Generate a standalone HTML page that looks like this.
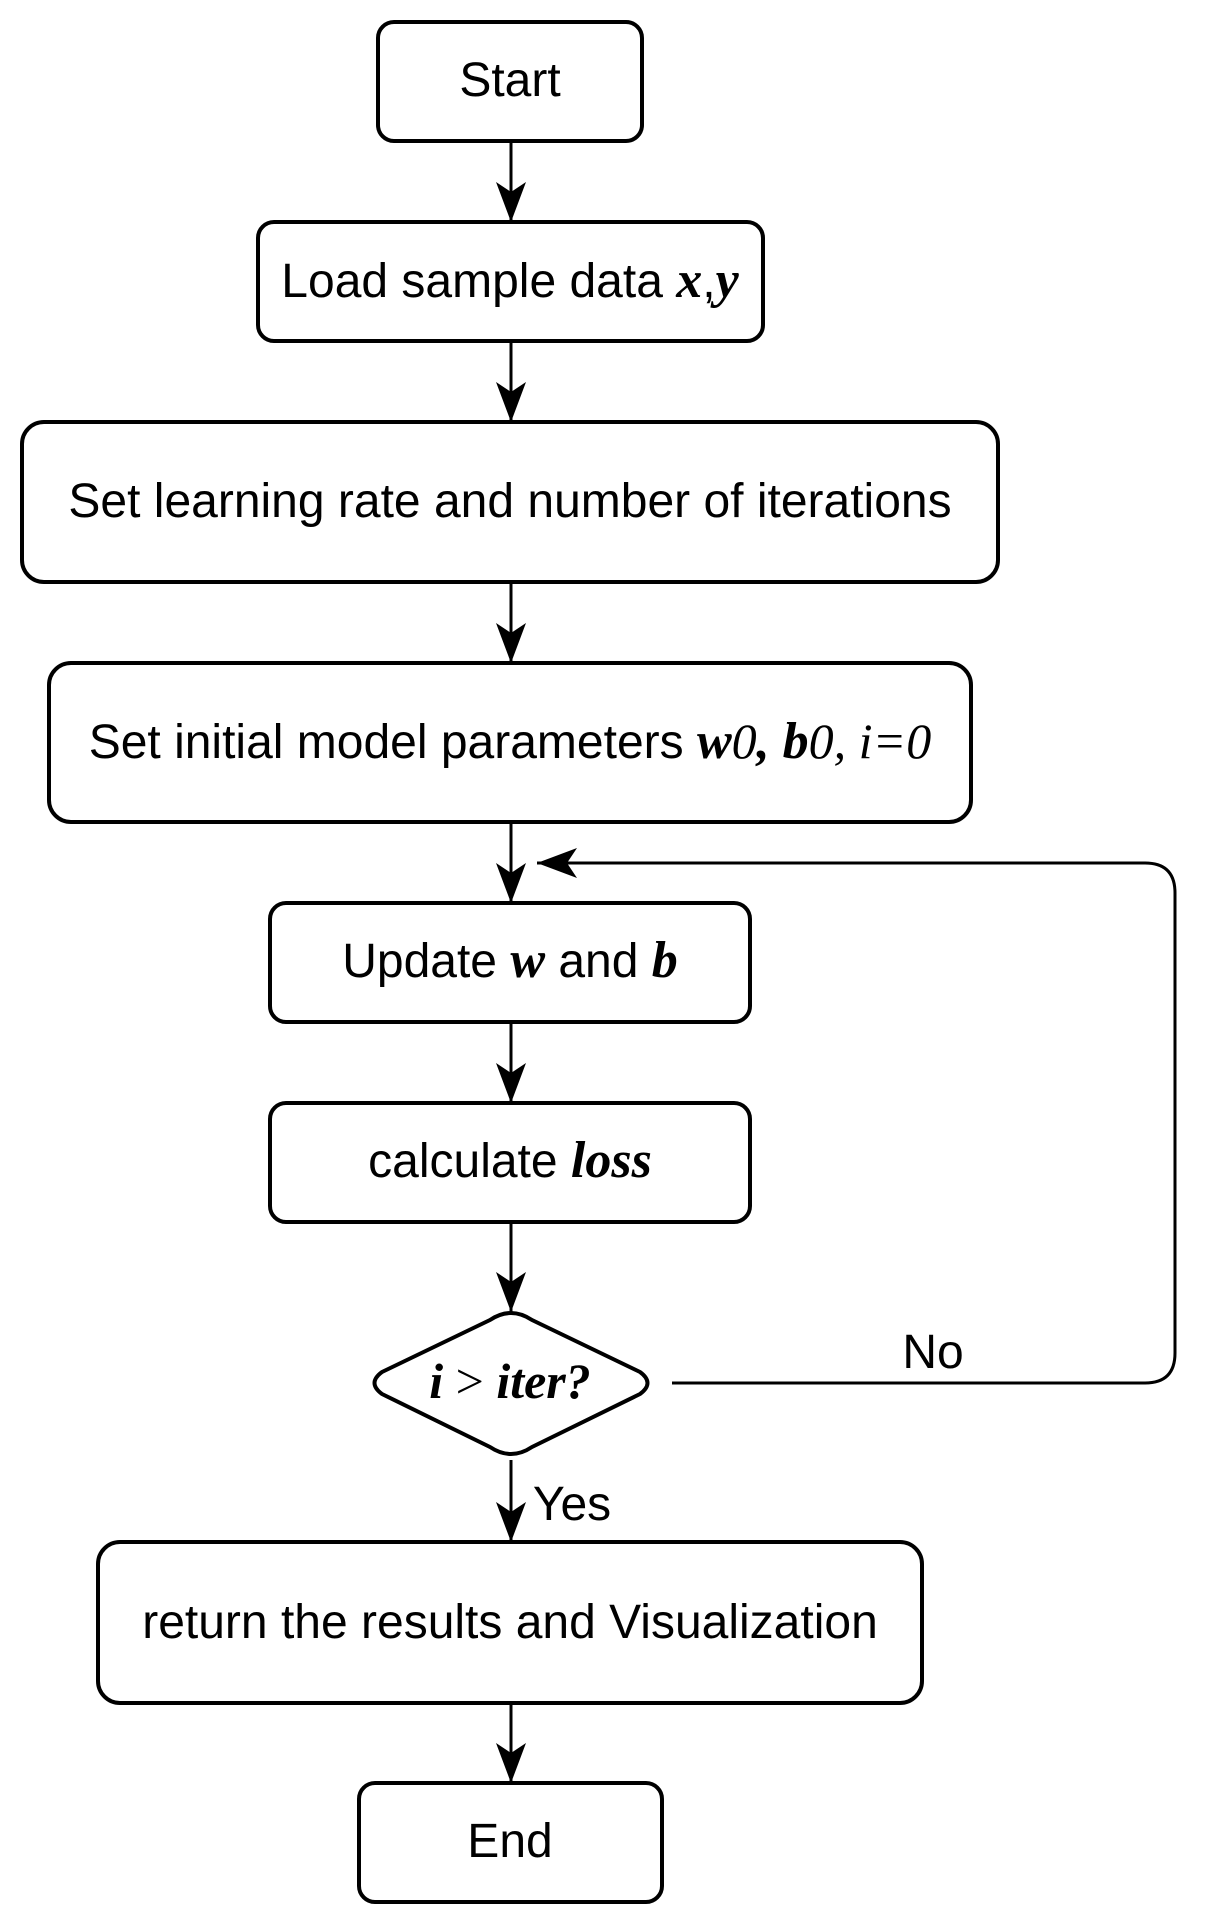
<!DOCTYPE html>
<html><head><style>html,body{margin:0;padding:0;background:#fff}</style></head>
<body>
<svg width="1228" height="1924" viewBox="0 0 1228 1924" xmlns="http://www.w3.org/2000/svg" font-family="Liberation Sans, sans-serif" font-size="48">
<defs>
<marker id="b" viewBox="0 0 40 30" refX="40" refY="15" markerWidth="40" markerHeight="30" markerUnits="userSpaceOnUse" orient="auto"><path d="M0,0 L40,15 L0,30 L10,15 z" fill="#000"/></marker></defs>
<g fill="#fff" stroke="#000" stroke-width="4">
<rect x="378" y="22" width="264" height="119" rx="16"/>
<rect x="258" y="222" width="505" height="119" rx="16"/>
<rect x="22" y="422" width="976" height="160" rx="22"/>
<rect x="49" y="663" width="922" height="159" rx="22"/>
<rect x="270" y="903" width="480" height="119" rx="16"/>
<rect x="270" y="1103" width="480" height="119" rx="16"/>
<path d="M490,1320 Q511,1306 532,1320 L640,1372 Q655,1383 640,1394 L532,1447 Q511,1461 490,1447 L382,1394 Q367,1383 382,1372 Z" stroke-linejoin="round"/>
<rect x="98" y="1542" width="824" height="161" rx="22"/>
<rect x="359" y="1783" width="303" height="119" rx="16"/>
</g>
<g stroke="#000" stroke-width="3" fill="none">
<line x1="511" y1="141" x2="511" y2="222" marker-end="url(#b)"/>
<line x1="511" y1="341" x2="511" y2="422" marker-end="url(#b)"/>
<line x1="511" y1="582" x2="511" y2="663" marker-end="url(#b)"/>
<line x1="511" y1="822" x2="511" y2="903" marker-end="url(#b)"/>
<line x1="511" y1="1022" x2="511" y2="1103" marker-end="url(#b)"/>
<line x1="511" y1="1222" x2="511" y2="1312" marker-end="url(#b)"/>
<line x1="511" y1="1460" x2="511" y2="1542" marker-end="url(#b)"/>
<line x1="511" y1="1703" x2="511" y2="1783" marker-end="url(#b)"/>
<path d="M672,1383 L1145,1383 Q1175,1383 1175,1353 L1175,893 Q1175,863 1145,863 L537,863" marker-end="url(#b)"/>
</g>
<g text-anchor="middle" fill="#000">
<text x="510" y="96">Start</text>
<text x="510" y="297">Load sample data <tspan font-family="Liberation Serif, serif" font-weight="bold" font-style="italic" font-size="52">x</tspan>,<tspan font-family="Liberation Serif, serif" font-weight="bold" font-style="italic" font-size="52">y</tspan></text>
<text x="510" y="517">Set learning rate and number of iterations</text>
<text x="510" y="758">Set initial model parameters <tspan font-family="Liberation Serif, serif" font-weight="bold" font-style="italic" font-size="52">w</tspan><tspan font-family="Liberation Serif, serif" font-style="italic" font-size="50">0</tspan><tspan font-family="Liberation Serif, serif" font-weight="bold" font-style="italic" font-size="52">, b</tspan><tspan font-family="Liberation Serif, serif" font-style="italic" font-size="50">0,  i=0</tspan></text>
<text x="510" y="977">Update <tspan font-family="Liberation Serif, serif" font-weight="bold" font-style="italic" font-size="52">w</tspan> and <tspan font-family="Liberation Serif, serif" font-weight="bold" font-style="italic" font-size="52">b</tspan></text>
<text x="510" y="1177">calculate <tspan font-family="Liberation Serif, serif" font-weight="bold" font-style="italic" font-size="52">loss</tspan></text>
<text x="510" y="1398" font-family="Liberation Serif, serif" font-weight="bold" font-style="italic" font-size="50">i <tspan font-style="normal" font-weight="normal">&gt;</tspan> iter?</text>
<text x="510" y="1638">return the results and Visualization</text>
<text x="510" y="1857">End</text>
<text x="933" y="1368">No</text>
<text x="572" y="1520">Yes</text>
</g>
</svg>
</body></html>
